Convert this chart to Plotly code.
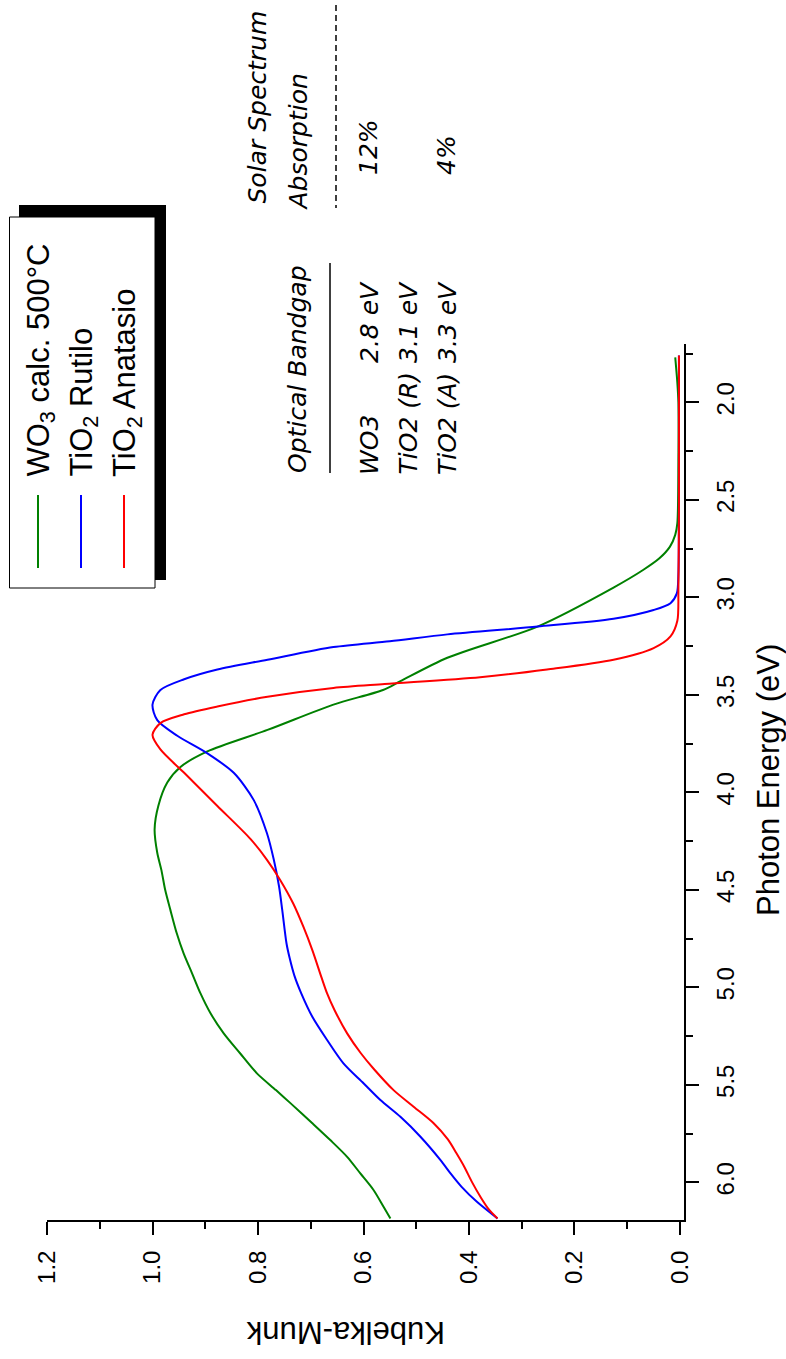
import plotly.graph_objects as go

# ---------------- data ----------------
energy_wo3 = [1.77, 1.90, 2.00, 2.30, 2.62, 2.68, 2.74, 2.80, 2.86, 2.95, 3.15, 3.31, 3.43, 3.475,
              3.55, 3.68, 3.79, 3.87, 3.95, 4.07, 4.19, 4.31, 4.40, 4.50, 4.604, 4.723, 4.826,
              4.928, 5.031, 5.133, 5.236, 5.338, 5.441, 5.527, 5.595, 5.697, 5.783, 5.869, 5.954,
              6.039, 6.125, 6.185]
km_wo3 = [0.009, 0.005, 0.003, 0.003, 0.005, 0.009, 0.019, 0.039, 0.070, 0.126, 0.27, 0.441, 0.53, 0.563,
          0.657, 0.782, 0.896, 0.947, 0.972, 0.989, 0.996, 0.991, 0.983, 0.976, 0.966, 0.954, 0.941,
          0.925, 0.909, 0.890, 0.865, 0.834, 0.802, 0.766, 0.738, 0.697, 0.663, 0.631, 0.606,
          0.581, 0.562, 0.549]

energy_rutile = [1.76, 2.00, 2.50, 2.88, 2.98, 3.03, 3.065, 3.11, 3.15, 3.19, 3.225, 3.255, 3.32,
                 3.37, 3.42, 3.475, 3.55, 3.63, 3.71, 3.80, 3.90, 4.04, 4.21, 4.346, 4.484, 4.604,
                 4.774, 4.85, 4.94, 5.031, 5.151, 5.270, 5.390, 5.492, 5.578, 5.664, 5.766, 5.886,
                 5.954, 6.023, 6.10, 6.185]
km_rutile = [0.002, 0.002, 0.002, 0.003, 0.006, 0.018, 0.05, 0.126, 0.27, 0.441, 0.55, 0.657, 0.782,
             0.877, 0.94, 0.985, 1.0, 0.991, 0.953, 0.896, 0.846, 0.808, 0.783, 0.770, 0.760, 0.754,
             0.746, 0.740, 0.731, 0.718, 0.697, 0.669, 0.638, 0.600, 0.568, 0.530, 0.492, 0.454,
             0.435, 0.414, 0.385, 0.346]

energy_anatase = [1.76, 2.50, 2.96, 3.12, 3.20, 3.26, 3.32, 3.37, 3.41, 3.445, 3.465, 3.51, 3.56,
                  3.60, 3.645, 3.705, 3.78, 3.90, 4.07, 4.24, 4.346, 4.449, 4.571, 4.689, 4.809,
                  4.946, 5.031, 5.116, 5.236, 5.338, 5.420, 5.527, 5.612, 5.697, 5.78, 5.85,
                  5.92, 6.00, 6.08, 6.14, 6.185]
km_anatase = [0.002, 0.002, 0.003, 0.005, 0.018, 0.05, 0.126, 0.252, 0.379, 0.56, 0.657, 0.782, 0.877,
              0.94, 0.985, 1.0, 0.985, 0.94, 0.877, 0.814, 0.783, 0.758, 0.733, 0.714, 0.697,
              0.680, 0.669, 0.655, 0.631, 0.605, 0.580, 0.543, 0.505, 0.467, 0.440, 0.424,
              0.409, 0.394, 0.377, 0.362, 0.346]

series_names = ["WO<sub>3</sub> calc. 500°C", "TiO<sub>2</sub> Rutilo", "TiO<sub>2</sub> Anatasio"]
series_colors = ["#008000", "#0000FF", "#FF0000"]

km_ticks = [0.0, 0.2, 0.4, 0.6, 0.8, 1.0, 1.2]
energy_ticks = [2.0, 2.5, 3.0, 3.5, 4.0, 4.5, 5.0, 5.5, 6.0]

table_materials = ["WO3", "TiO2 (R)", "TiO2 (A)"]
table_bandgaps = ["2.8 eV", "3.1 eV", "3.3 eV"]
table_absorption = ["12%", "", "4%"]

# ---------------- layout geometry ----------------
W, H = 786, 1359
L, R, T, B = 47, 102, 344, 139
PW = W - L - R
PH = H - T - B


def px(x):
    return (x - L) / PW


def py(y):
    return (H - B - y) / PH


fig = go.Figure()
for xs, ys, c in [(energy_wo3, km_wo3, series_colors[0]),
                  (energy_rutile, km_rutile, series_colors[1]),
                  (energy_anatase, km_anatase, series_colors[2])]:
    fig.add_trace(go.Scatter(x=ys, y=xs, mode="lines",
                             line=dict(color=c, width=2, shape="spline", smoothing=0.8),
                             showlegend=False, hoverinfo="skip"))

axis_font = dict(family="Liberation Sans, Arial, sans-serif", size=24, color="black")

fig.update_layout(
    width=W, height=H,
    margin=dict(l=L, r=R, t=T, b=B, pad=0),
    paper_bgcolor="white", plot_bgcolor="white",
    showlegend=False,
    xaxis=dict(range=[1.2, -0.0076], tickvals=km_ticks, tickformat=".1f", ticks="outside",
               ticklen=13, tickwidth=2, tickcolor="black", showline=True, linewidth=2,
               linecolor="black", showgrid=False, zeroline=False, tickangle=-90,
               tickfont=axis_font, ticklabelstandoff=6,
               minor=dict(dtick=0.1, tick0=0, ticks="outside", ticklen=7, tickwidth=2, tickcolor="black")),
    yaxis=dict(range=[6.193, 1.701], side="right", tickvals=energy_ticks, tickformat=".1f",
               ticks="outside", ticklen=13, tickwidth=2, tickcolor="black", showline=True,
               linewidth=2, linecolor="black", showgrid=False, zeroline=False, tickangle=-90,
               tickfont=axis_font, ticklabelstandoff=6,
               minor=dict(dtick=0.25, tick0=0, ticks="outside", ticklen=7, tickwidth=2, tickcolor="black")),
)

shapes = []
annotations = []

# axis titles
title_font = dict(family="Liberation Sans, Arial, sans-serif", size=31, color="black")
annotations.append(dict(text="Photon Energy (eV)", x=px(768), y=py(780), xref="paper", yref="paper",
                        textangle=-90, showarrow=False, xanchor="center", yanchor="middle", font=title_font))
annotations.append(dict(text="Kubelka-Munk", x=px(346), y=py(1333), xref="paper", yref="paper",
                        textangle=180, showarrow=False, xanchor="center", yanchor="middle", font=title_font))

# legend box with shadow
shapes.append(dict(type="rect", xref="paper", yref="paper", x0=px(19), x1=px(166), y0=py(205), y1=py(580),
                   fillcolor="black", line=dict(width=0)))
shapes.append(dict(type="rect", xref="paper", yref="paper", x0=px(9.5), x1=px(155), y0=py(217), y1=py(588),
                   fillcolor="white", line=dict(color="black", width=1)))
leg_x = [38, 81, 124]
leg_font = dict(family="Liberation Sans, Arial, sans-serif", size=31, color="black")
for i in range(3):
    shapes.append(dict(type="line", xref="paper", yref="paper", x0=px(leg_x[i]), x1=px(leg_x[i]),
                       y0=py(495), y1=py(568), line=dict(color=series_colors[i], width=2)))
    annotations.append(dict(text=series_names[i], x=px(leg_x[i] + 3), y=py(479), xref="paper", yref="paper",
                            textangle=-90, showarrow=False, xanchor="center", yanchor="bottom", font=leg_font))

# table of band gaps / absorption
tab_font = dict(family="DejaVu Sans, Verdana, sans-serif", size=25, color="black")


def tab(text, x, ybottom):
    annotations.append(dict(text="<i>" + text + "</i>", x=px(x), y=py(ybottom), xref="paper", yref="paper",
                            textangle=-90, showarrow=False, xanchor="center", yanchor="bottom", font=tab_font))


tab("Solar Spectrum", 257, 206)
tab("Absorption", 298, 213)
tab("Optical Bandgap", 297, 475)
shapes.append(dict(type="line", xref="paper", yref="paper", x0=px(336), x1=px(336), y0=py(5), y1=py(208),
                   line=dict(color="black", width=1.5, dash="6px,4px")))
shapes.append(dict(type="line", xref="paper", yref="paper", x0=px(330), x1=px(330), y0=py(263), y1=py(473),
                   line=dict(color="black", width=1.5)))
row_x = [369, 408, 447]
for i in range(3):
    tab(table_materials[i], row_x[i], 477)
    tab(table_bandgaps[i], row_x[i], 365)
    if table_absorption[i]:
        tab(table_absorption[i], row_x[i], 177)

fig.update_layout(shapes=shapes, annotations=annotations)
fig.write_html("out.html")
